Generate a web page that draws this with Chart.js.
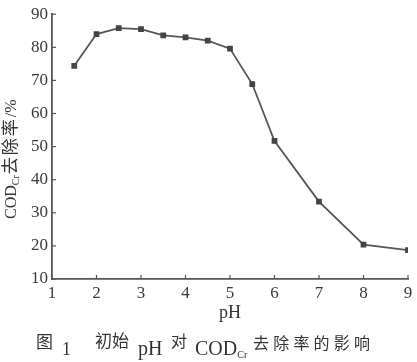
<!DOCTYPE html>
<html>
<head>
<meta charset="utf-8">
<script src="https://cdn.jsdelivr.net/npm/chart.js@4"></script>
<style>
  html, body { margin: 0; padding: 0; background: #fff; }
  #wrap { width: 417px; height: 362px; }
</style>
</head>
<body>
<div id="wrap"><canvas id="c" width="417" height="362"></canvas></div>
<script>
// 初始 pH 对 COD_Cr 去除率的影响
const phValues = [1.5, 2, 2.5, 3, 3.5, 4, 4.5, 5, 5.5, 6, 7, 8, 9];
const removalRate = [74.4, 84.0, 85.8, 85.5, 83.6, 83.0, 82.0, 79.6, 68.9, 51.7, 33.4, 20.4, 18.7];
const xTicks = [1, 2, 3, 4, 5, 6, 7, 8, 9];
const yTicks = [10, 20, 30, 40, 50, 60, 70, 80, 90];

const SERIF = '"Liberation Serif", "DejaVu Serif", serif';
const CJK = '"Noto Sans CJK SC", "Noto Sans", sans-serif';
const INK = '#555';

// petites graduations vers l'intérieur + titres
const decor = {
    id: 'decor',
    afterDraw(chart) {
        const ctx = chart.ctx;
        const xs = chart.scales.x, ys = chart.scales.y;
        const area = chart.chartArea;
        ctx.save();
        ctx.strokeStyle = INK;
        ctx.lineWidth = 1.2;
        xTicks.forEach(v => {
            const px = xs.getPixelForValue(v);
            ctx.beginPath();
            ctx.moveTo(px, area.bottom);
            ctx.lineTo(px, area.bottom - 4);
            ctx.stroke();
        });
        yTicks.forEach(v => {
            const py = ys.getPixelForValue(v);
            ctx.beginPath();
            ctx.moveTo(area.left, py);
            ctx.lineTo(area.left + 4, py);
            ctx.stroke();
        });

        ctx.fillStyle = '#333';
        ctx.textBaseline = 'alphabetic';

        // titre axe x
        ctx.font = '18px ' + SERIF;
        ctx.textAlign = 'center';
        ctx.fillText('pH', 230, 318);

        // titre axe y (pivoté)
        ctx.save();
        ctx.translate(16, 219);
        ctx.rotate(-Math.PI / 2);
        ctx.textAlign = 'left';
        let x = 0;
        ctx.font = '16px ' + SERIF;
        ctx.fillText('COD', x, 0);
        x += ctx.measureText('COD').width;
        ctx.font = '10px ' + SERIF;
        ctx.fillText('Cr', x, 3);
        x += ctx.measureText('Cr').width + 1;
        ctx.font = '17px ' + CJK;
        ['去', '除', '率'].forEach(ch => {
            ctx.fillText(ch, x, 0);
            x += 19;
        });
        ctx.font = '16px ' + SERIF;
        ctx.fillText('/%', x, 0);
        ctx.restore();

        // légende de figure
        ctx.textAlign = 'left';
        ctx.font = '17px ' + CJK;
        ctx.fillText('图', 36, 348);
        ctx.font = '18px ' + SERIF;
        ctx.fillText('1', 62, 355);
        ctx.font = '17px ' + CJK;
        ctx.fillText('初始', 95, 347);
        ctx.font = '20px ' + SERIF;
        ctx.fillText('pH', 138, 355);
        ctx.font = '16px ' + CJK;
        ctx.fillText('对', 171, 347);
        ctx.font = '20px ' + SERIF;
        ctx.fillText('COD', 195, 355);
        let cx = 195 + ctx.measureText('COD').width;
        ctx.font = '10px ' + SERIF;
        ctx.fillText('Cr', cx, 358);
        ctx.font = '16px ' + CJK;
        const tail = '去除率的影响';
        for (let i = 0; i < tail.length; i++) {
            ctx.fillText(tail[i], 253 + i * 20.2, 349);
        }
        ctx.restore();
    }
};

new Chart(document.getElementById('c'), {
    type: 'line',
    data: {
        datasets: [{
            data: phValues.map((p, i) => ({ x: p, y: removalRate[i] })),
            borderColor: INK,
            borderWidth: 1.8,
            pointStyle: 'rect',
            pointRadius: 2.8,
            pointBackgroundColor: '#444',
            pointBorderColor: '#444',
            tension: 0
        }]
    },
    options: {
        responsive: false,
        animation: false,
        layout: { padding: { top: 11, right: 9, left: 0, bottom: 0 } },
        plugins: { legend: { display: false }, tooltip: { enabled: false } },
        scales: {
            x: {
                type: 'linear',
                min: 1, max: 9,
                afterBuildTicks: s => { s.ticks = xTicks.map(v => ({ value: v })); },
                afterFit: s => { s.height = 83; },
                grid: { display: false, drawTicks: false },
                border: { color: INK, width: 1.8 },
                ticks: { color: '#3a3a3a', padding: 4, font: { family: SERIF, size: 17 } }
            },
            y: {
                min: 10, max: 90,
                afterBuildTicks: s => { s.ticks = yTicks.map(v => ({ value: v })); },
                afterFit: s => { s.width = 52; },
                grid: { display: false, drawTicks: false },
                border: { color: INK, width: 1.8 },
                ticks: { color: '#3a3a3a', padding: 4, font: { family: SERIF, size: 17 } }
            }
        }
    },
    plugins: [decor]
});
</script>
</body>
</html>
